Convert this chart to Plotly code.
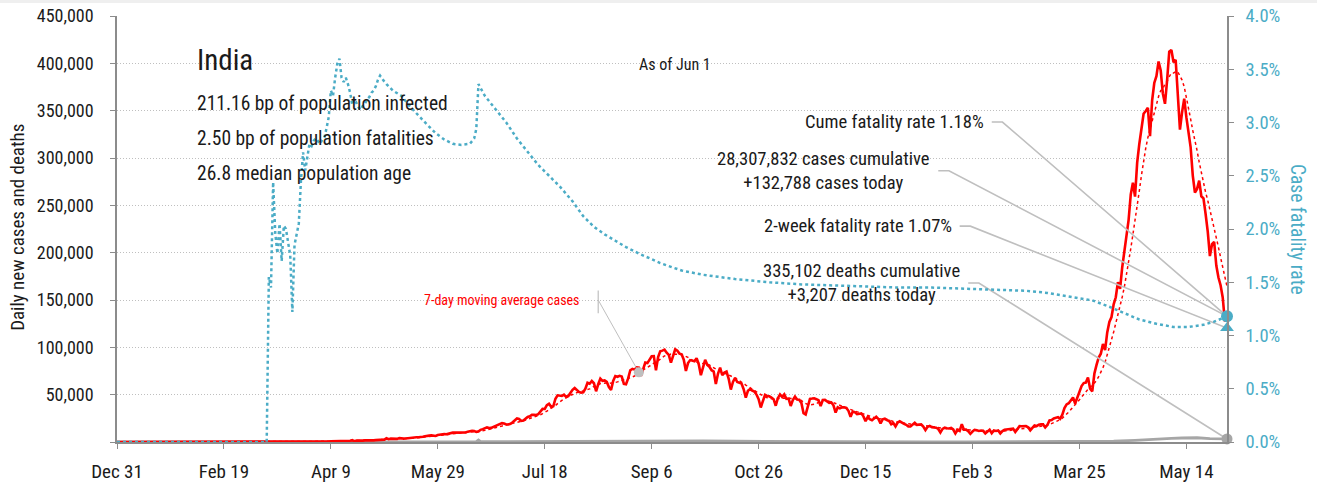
import pandas as pd
import plotly.graph_objects as go

# ---- Daily new confirmed cases, India, one list per month ----
cases_2019_dec = [0]
cases_2020_jan = [0, 0, 0, 0, 0, 0, 0, 0, 0, 0, 0, 0, 0, 0, 0, 0, 0, 0, 0, 0,
                  0, 0, 0, 0, 0, 0, 0, 0, 0, 1, 0]
cases_2020_feb = [0, 1, 1, 0, 0, 0, 0, 0, 0, 0, 0, 0, 0, 0, 0, 0, 0, 0, 0, 0,
                  0, 0, 0, 0, 0, 0, 0, 0, 0]
cases_2020_mar = [0, 2, 1, 22, 1, 2, 3, 5, 4, 12, 11, 13, 9, 19, 26, 14, 23, 14,
                  39, 50, 86, 66, 103, 37, 121, 70, 160, 100, 106, 227, 146]
cases_2020_apr = [601, 545, 478, 515, 506, 693, 508, 605, 809, 873, 848, 759,
                  1248, 1034, 835, 1108, 922, 1370, 1893, 924, 1541, 1290, 1707,
                  1453, 1753, 1607, 1561, 1873, 1738, 1981]
cases_2020_may = [1993, 2293, 2644, 2487, 3900, 2958, 3561, 3390, 3320, 3277,
                  4213, 3604, 3525, 3722, 3967, 3970, 4987, 5242, 4970, 4943,
                  5611, 5609, 6088, 6654, 6767, 6977, 6535, 6387, 7466, 7964, 8380]
cases_2020_jun = [8392, 8171, 8909, 9304, 9851, 9887, 9971, 9983, 9987, 9985,
                  9996, 10956, 11458, 11929, 11502, 10667, 10974, 12881, 13586,
                  14516, 15413, 14821, 14933, 15968, 16922, 17296, 18552, 19906,
                  19459, 18522]
cases_2020_jul = [18653, 19148, 20903, 22771, 24850, 24248, 22252, 22752, 24879,
                  26506, 27114, 28637, 28701, 28498, 29429, 32695, 34956, 34884,
                  38902, 40425, 37148, 37724, 45720, 49310, 48916, 48661, 49931,
                  47703, 48513, 52123, 55079]
cases_2020_aug = [57118, 54735, 52972, 52050, 52509, 56282, 62538, 61537, 64399,
                  62064, 53601, 60963, 66999, 64553, 65002, 63490, 57981, 55079,
                  64531, 69652, 68898, 69878, 69239, 61408, 60975, 67151, 75760,
                  77266, 76472, 78761, 78512]
cases_2020_sep = [69921, 78357, 83883, 83341, 86432, 90632, 90802, 75809, 89706,
                  95735, 96551, 97570, 94372, 92071, 83809, 90123, 97894, 96424,
                  93337, 92605, 86961, 75083, 83347, 86508, 86052, 85362, 88600,
                  82170, 70589, 80472]
cases_2020_oct = [86821, 81484, 79476, 75829, 74442, 61267, 72049, 78524, 70496,
                  73272, 74383, 66732, 55342, 63509, 67708, 63371, 62212, 61871,
                  55722, 46790, 54044, 55839, 54366, 53370, 50129, 45148, 36470,
                  43893, 49881, 48648, 48268]
cases_2020_nov = [46963, 45231, 38310, 46253, 50210, 47638, 50357, 45674, 45903,
                  38073, 44281, 47905, 44878, 44684, 41100, 30548, 29164, 38617,
                  45576, 45882, 46232, 45209, 44059, 37975, 44376, 44489, 43082,
                  41322, 41810, 38772]
cases_2020_dec = [31118, 36604, 35551, 36595, 36652, 36011, 32981, 26567, 32080,
                  31521, 29398, 30006, 30254, 27071, 22065, 26382, 24010, 22890,
                  25152, 26624, 24337, 19556, 23950, 24712, 23067, 22272, 18732,
                  20021, 16432, 20549, 21822]
cases_2021_jan = [20035, 19078, 18177, 16504, 16375, 18088, 20346, 18139, 18222,
                  18645, 16311, 12584, 15968, 16946, 15590, 15158, 15144, 13788,
                  10064, 13823, 15223, 14545, 14256, 14849, 13203, 9102, 12689,
                  11666, 18855, 13083, 13052]
cases_2021_feb = [11427, 8635, 11039, 12899, 12408, 11713, 12059, 11831, 9110,
                  11067, 12923, 9309, 12143, 11649, 12194, 9121, 11610, 12881,
                  13193, 13993, 14264, 14199, 10584, 13742, 16738, 16577, 16488,
                  16752]
cases_2021_mar = [15510, 12286, 14989, 17407, 16838, 18327, 18711, 18599, 15388,
                  17921, 22854, 23285, 24882, 25320, 26291, 24492, 28903, 35871,
                  39726, 40953, 43846, 46951, 40715, 47262, 53476, 59118, 62258,
                  62714, 68020, 56211, 53480]
cases_2021_apr = [72330, 81466, 89129, 93249, 103558, 96982, 115736, 126789,
                  131968, 145384, 152879, 168912, 161736, 184372, 200739, 217353,
                  234692, 261500, 273810, 259170, 295041, 314835, 332730, 346786,
                  349691, 352991, 323144, 360960, 379257, 386452]
cases_2021_may = [401993, 392488, 368147, 357229, 382315, 412262, 414188, 401078,
                  403738, 366161, 329942, 348421, 362727, 343144, 326098, 311170,
                  281386, 263533, 267334, 276110, 259551, 257299, 240842, 222315,
                  196427, 208921, 211298, 186364, 173790, 165553, 152734]
cases_2021_jun = [127510, 132788]

# ---- Daily deaths (sampled) ----
death_dates = ["2019-12-31", "2020-03-11", "2020-03-31", "2020-04-15", "2020-04-30",
               "2020-05-15", "2020-05-31", "2020-06-16", "2020-06-17", "2020-06-18",
               "2020-06-30", "2020-07-15", "2020-07-31", "2020-08-15", "2020-08-31",
               "2020-09-15", "2020-09-30", "2020-10-15", "2020-10-31", "2020-11-15",
               "2020-11-30", "2020-12-15", "2020-12-31", "2021-01-15", "2021-01-31",
               "2021-02-15", "2021-02-28", "2021-03-15", "2021-03-31", "2021-04-10",
               "2021-04-20", "2021-04-30", "2021-05-07", "2021-05-12", "2021-05-19",
               "2021-05-25", "2021-05-31", "2021-06-02"]
death_values = [0, 0, 5, 30, 70, 100, 190, 380, 2003, 341,
                420, 580, 770, 980, 1000, 1150, 1100, 800, 560, 480,
                450, 340, 280, 190, 120, 90, 110, 160, 350, 800,
                1800, 3500, 3900, 4200, 4500, 3500, 3100, 3207]

# ---- Cumulative case fatality rate, % ----
cfr_dates = ["2019-12-31", "2020-03-10", "2020-03-11", "2020-03-12", "2020-03-13",
             "2020-03-14", "2020-03-15", "2020-03-16", "2020-03-17", "2020-03-18",
             "2020-03-19", "2020-03-20", "2020-03-21", "2020-03-22", "2020-03-23",
             "2020-03-24", "2020-03-25", "2020-03-26", "2020-03-27", "2020-03-28",
             "2020-03-29", "2020-03-30", "2020-03-31", "2020-04-01", "2020-04-02",
             "2020-04-03", "2020-04-04", "2020-04-05", "2020-04-06", "2020-04-07",
             "2020-04-08", "2020-04-09", "2020-04-10", "2020-04-11", "2020-04-12",
             "2020-04-13", "2020-04-14", "2020-04-15", "2020-04-16", "2020-04-17",
             "2020-04-18", "2020-04-19", "2020-04-20", "2020-04-21", "2020-04-22",
             "2020-04-23", "2020-04-24", "2020-04-25", "2020-04-26", "2020-04-27",
             "2020-04-28", "2020-04-29", "2020-04-30", "2020-05-01", "2020-05-02",
             "2020-05-03", "2020-05-04", "2020-05-05", "2020-05-08", "2020-05-12",
             "2020-05-16", "2020-05-20", "2020-05-24", "2020-05-28", "2020-06-01",
             "2020-06-05", "2020-06-09", "2020-06-13", "2020-06-15", "2020-06-16",
             "2020-06-17", "2020-06-20", "2020-06-25", "2020-06-30", "2020-07-05",
             "2020-07-10", "2020-07-15", "2020-07-20", "2020-07-25", "2020-07-31",
             "2020-08-05", "2020-08-10", "2020-08-15", "2020-08-20", "2020-08-25",
             "2020-08-31", "2020-09-10", "2020-09-20", "2020-09-30", "2020-10-15",
             "2020-10-31", "2020-11-15", "2020-11-30", "2020-12-15", "2020-12-31",
             "2021-01-15", "2021-01-31", "2021-02-15", "2021-02-28", "2021-03-10",
             "2021-03-20", "2021-03-31", "2021-04-08", "2021-04-15", "2021-04-22",
             "2021-04-30", "2021-05-08", "2021-05-15", "2021-05-22", "2021-05-27",
             "2021-06-02"]
cfr_values = [0, 0, 1.55, 1.45, 2.44,
              1.96, 1.77, 2.05, 1.70, 2.03,
              2.00, 1.85, 1.75, 1.22, 1.85,
              1.95, 2.05, 2.45, 2.72, 2.55,
              2.70, 2.80, 2.78, 2.83, 2.85,
              2.82, 2.80, 2.84, 2.86, 2.95,
              3.05, 3.30, 3.25, 3.42, 3.55,
              3.60, 3.42, 3.38, 3.42, 3.36,
              3.28, 3.17, 3.22, 3.18, 3.14,
              3.12, 3.16, 3.18, 3.22, 3.24,
              3.28, 3.30, 3.34, 3.40, 3.44,
              3.41, 3.38, 3.36, 3.30, 3.25,
              3.15, 3.06, 2.98, 2.90, 2.84,
              2.80, 2.79, 2.80, 2.85, 2.94,
              3.36, 3.25, 3.12, 3.00, 2.85,
              2.72, 2.60, 2.50, 2.40, 2.26,
              2.12, 2.02, 1.95, 1.89, 1.83,
              1.77, 1.68, 1.61, 1.57, 1.53,
              1.50, 1.48, 1.47, 1.46, 1.45,
              1.45, 1.44, 1.43, 1.42, 1.40,
              1.37, 1.33, 1.27, 1.21, 1.15,
              1.11, 1.08, 1.08, 1.10, 1.13,
              1.18]

# ---- Headline figures ----
cases_cumulative = 28307832
deaths_cumulative = 335102
deaths_today = 3207
cume_cfr = 1.18
two_week_cfr = 1.07
stats_lines = ["211.16 bp of population infected",
               "2.50 bp of population fatalities",
               "26.8 median population age"]

CASES_MAX = 450000
CFR_MAX = 4.0

RED = "#FF0000"
BLUE = "#4BACC6"
GRAY = "#A6A6A6"
LEADER = "#BFBFBF"
AXIS = "#8C8C8C"
INK = "#1A1A1A"
FONT = "Roboto Condensed, Roboto, sans-serif"

daily_cases = (cases_2019_dec + cases_2020_jan + cases_2020_feb + cases_2020_mar
               + cases_2020_apr + cases_2020_may + cases_2020_jun + cases_2020_jul
               + cases_2020_aug + cases_2020_sep + cases_2020_oct + cases_2020_nov
               + cases_2020_dec + cases_2021_jan + cases_2021_feb + cases_2021_mar
               + cases_2021_apr + cases_2021_may + cases_2021_jun)
dates = pd.date_range("2019-12-31", periods=len(daily_cases), freq="D")
cases = pd.Series(daily_cases, index=dates)
cases_ma7 = cases.rolling(7, min_periods=1).mean()

last_day = dates[-1]
cases_today = cases.iloc[-1]


def cfr_on_left(p):
    """Express a fatality-rate value on the left (cases) axis scale."""
    return p / CFR_MAX * CASES_MAX


fig = go.Figure()

# deaths
fig.add_trace(go.Scatter(x=death_dates, y=death_values, mode="lines",
                         line=dict(color=GRAY, width=2.8), hoverinfo="skip"))
# daily cases
fig.add_trace(go.Scatter(x=dates, y=cases.values, mode="lines",
                         line=dict(color=RED, width=2.6), hoverinfo="skip"))
# 7-day moving average
fig.add_trace(go.Scatter(x=dates, y=cases_ma7.values, mode="lines",
                         line=dict(color=RED, width=1.5, dash="dot"),
                         hoverinfo="skip"))

# leader lines for the callouts
callouts = [
    # (label start, knee, label y, end y on left scale)
    ("2021-02-12", "2021-02-17", 338000, cfr_on_left(cume_cfr)),
    ("2021-01-18", "2021-01-23", 286500, cases_today),
    ("2021-01-28", "2021-02-02", 228000, cfr_on_left(two_week_cfr)),
    ("2021-02-01", "2021-02-06", 168000, deaths_today),
]
for start, knee, ylab, yend in callouts:
    fig.add_trace(go.Scatter(x=[start, knee, last_day], y=[ylab, ylab, yend],
                             mode="lines", line=dict(color=LEADER, width=1.6),
                             hoverinfo="skip", cliponaxis=False))

# pointer for the moving-average label
ma_point_day = pd.Timestamp("2020-08-31")
ma_label_day = "2020-08-12"
fig.add_trace(go.Scatter(x=[ma_label_day, ma_label_day], y=[136000, 160000],
                         mode="lines", line=dict(color=LEADER, width=1.2),
                         hoverinfo="skip"))
fig.add_trace(go.Scatter(x=[ma_label_day, ma_point_day],
                         y=[150000, cases_ma7[ma_point_day]],
                         mode="lines", line=dict(color=LEADER, width=1),
                         hoverinfo="skip"))
fig.add_trace(go.Scatter(x=[ma_point_day], y=[cases_ma7[ma_point_day]],
                         mode="markers", marker=dict(color=LEADER, size=10),
                         hoverinfo="skip"))

# end-point marker for deaths on the cases scale
fig.add_trace(go.Scatter(x=[last_day], y=[deaths_today], mode="markers",
                         marker=dict(color=GRAY, size=11), cliponaxis=False,
                         hoverinfo="skip"))

# case fatality rate on the right axis
fig.add_trace(go.Scatter(x=cfr_dates, y=cfr_values, mode="lines", yaxis="y2",
                         line=dict(color=BLUE, width=2.5, dash="dot"),
                         hoverinfo="skip"))
fig.add_trace(go.Scatter(x=[last_day], y=[two_week_cfr], mode="markers",
                         yaxis="y2", cliponaxis=False,
                         marker=dict(color=BLUE, size=12, symbol="triangle-up"),
                         hoverinfo="skip"))
fig.add_trace(go.Scatter(x=[last_day], y=[cume_cfr], mode="markers",
                         yaxis="y2", cliponaxis=False,
                         marker=dict(color=BLUE, size=12, symbol="circle"),
                         hoverinfo="skip"))

annotations = []


def note(text, x, y, xref="x", yref="y", size=17, color=INK, xanchor="center",
         yanchor="middle", align="center", xshift=0, angle=0):
    annotations.append(dict(text=text, x=x, y=y, xref=xref, yref=yref,
                            showarrow=False, xanchor=xanchor, yanchor=yanchor,
                            align=align, xshift=xshift, textangle=angle,
                            font=dict(family=FONT, size=size, color=color)))


note("India", 0.0705, 0.897, "paper", "paper", size=29, xanchor="left")
for i, line in enumerate(stats_lines):
    note(line, 0.0705, 0.795 - 0.082 * i, "paper", "paper", size=19.5,
         xanchor="left")
note("As of Jun 1", 0.503, 0.885, "paper", "paper", size=16)

note(f"Cume fatality rate {cume_cfr:.2f}%", callouts[0][0], callouts[0][2],
     xanchor="right", xshift=-6, size=18.6)
note(f"{cases_cumulative:,} cases cumulative<br>+{cases_today:,} cases today",
     callouts[1][0], callouts[1][2], xanchor="right", xshift=-6, size=18.6)
note(f"2-week fatality rate {two_week_cfr:.2f}%", callouts[2][0], callouts[2][2],
     xanchor="right", xshift=-6, size=18.6)
note(f"{deaths_cumulative:,} deaths cumulative<br>+{deaths_today:,} deaths today",
     callouts[3][0], callouts[3][2], xanchor="right", xshift=-6, size=18.6)
note("7-day moving average cases", ma_label_day, 150000, xanchor="right",
     xshift=-16, size=14, color=RED)

note("Daily new cases and deaths", -0.0892, 0.505, "paper", "paper", size=19,
     angle=-90)
note("Case fatality rate", 1.063, 0.498, "paper", "paper", size=19.5, angle=90,
     color=BLUE)

left_ticks = list(range(0, CASES_MAX + 1, 50000))
left_text = ["" if v == 0 else f"{v:,}" for v in left_ticks]

fig.update_layout(
    width=1317, height=482,
    margin=dict(l=117, r=90, t=16, b=40),
    paper_bgcolor="white", plot_bgcolor="white",
    showlegend=False,
    font=dict(family=FONT, color=INK, size=18),
    annotations=annotations,
    shapes=[dict(type="rect", xref="paper", yref="paper", x0=-0.2, x1=1.2,
                 y0=1.0305, y1=1.05, fillcolor="#EFEFEF", line=dict(width=0),
                 layer="below")],
    xaxis=dict(type="date", range=["2019-12-31", last_day],
               tick0="2019-12-31", dtick=50 * 86400000, tickformat="%b %-d",
               ticks="outside", ticklen=5, tickcolor=AXIS, showline=True,
               linecolor=AXIS, linewidth=1.5, showgrid=False, zeroline=False,
               tickfont=dict(size=19, color=INK), ticklabelstandoff=6,
               automargin=False),
    yaxis=dict(range=[0, CASES_MAX], tickvals=left_ticks, ticktext=left_text,
               ticks="outside", ticklen=5, tickcolor=AXIS, showline=True,
               linecolor=AXIS, linewidth=1.5, showgrid=True,
               gridcolor=LEADER, griddash="1px,2px", gridwidth=1,
               zeroline=False, tickfont=dict(size=18, color=INK),
               ticklabelstandoff=13, automargin=False),
    yaxis2=dict(range=[0, CFR_MAX], overlaying="y", side="right", dtick=0.5,
                tickformat=".1f", ticksuffix="%", ticks="outside", ticklen=5,
                tickcolor=AXIS, showline=True, linecolor=AXIS, linewidth=1.5,
                showgrid=False, zeroline=False,
                tickfont=dict(size=18.5, color=BLUE), ticklabelstandoff=8,
                automargin=False),
)

fig.write_html("out.html")
